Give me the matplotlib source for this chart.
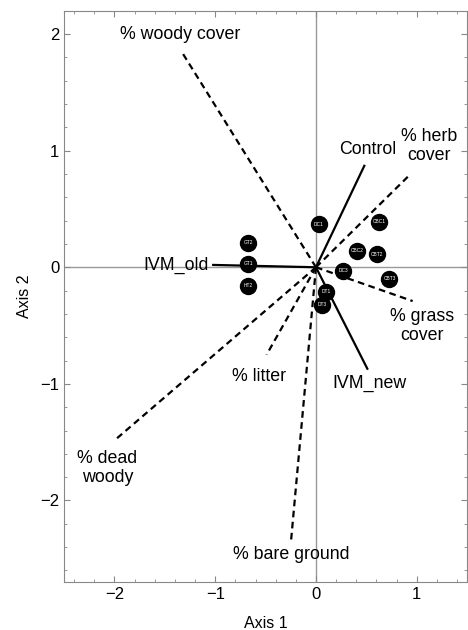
import matplotlib
matplotlib.use("Agg")
import matplotlib.pyplot as plt
from matplotlib.ticker import MultipleLocator

plt.rcParams["font.family"] = ["Liberation Sans", "DejaVu Sans"]

# site scores
site_names = ["DC1", "GT2", "GT1", "HT2", "CBC1", "CBC2", "CBT2", "DC3", "CBT3", "DT1", "DT3"]
site_x = [0.03, -0.67, -0.67, -0.67, 0.63, 0.41, 0.61, 0.27, 0.73, 0.10, 0.06]
site_y = [0.37, 0.21, 0.03, -0.16, 0.39, 0.14, 0.11, -0.03, -0.10, -0.21, -0.32]

# treatment vectors (solid)
treat_names = ["Control", "IVM_old", "IVM_new"]
treat_x = [0.48, -1.02, 0.51]
treat_y = [0.87, 0.02, -0.87]
treat_lab_x = [0.51, -1.39, 0.53]
treat_lab_y = [1.01, 0.02, -1.0]

# habitat variable vectors (dashed)
var_names = ["% woody cover", "% herb\ncover", "% grass\ncover", "% bare ground", "% litter", "% dead\nwoody"]
var_x = [-1.32, 0.94, 0.96, -0.25, -0.49, -1.98]
var_y = [1.83, 0.80, -0.29, -2.37, -0.75, -1.47]
var_lab_x = [-1.35, 1.12, 1.05, -0.25, -0.56, -2.07]
var_lab_y = [2.0, 1.04, -0.50, -2.46, -0.94, -1.72]

fig = plt.figure(figsize=(4.68, 6.3), dpi=100)
ax = fig.add_axes([0.137, 0.076, 0.861, 0.907])

ax.axhline(0, color="#999999", lw=1, zorder=0)
ax.axvline(0, color="#999999", lw=1, zorder=0)

for x, y in zip(var_x, var_y):
    ax.plot([0, x], [0, y], color="black", lw=1.6, ls=(0, (3, 2)), zorder=2)
for x, y in zip(treat_x, treat_y):
    ax.plot([0, x], [0, y], color="black", lw=1.6, zorder=2)

for name, x, y in zip(var_names, var_lab_x, var_lab_y):
    ax.text(x, y, name, ha="center", va="center", fontsize=12.8, linespacing=1.15)
for name, x, y in zip(treat_names, treat_lab_x, treat_lab_y):
    ax.text(x, y, name, ha="center", va="center", fontsize=12.8)

ax.plot(site_x, site_y, "o", color="black", ms=11.5, zorder=3)
for name, x, y in zip(site_names, site_x, site_y):
    ax.text(x, y, name, ha="center", va="center", fontsize=3.5, color="white", zorder=4)

ax.set_xlim(-2.5, 1.5)
ax.set_ylim(-2.7, 2.2)
ax.xaxis.set_major_locator(MultipleLocator(1))
ax.xaxis.set_minor_locator(MultipleLocator(0.2))
ax.yaxis.set_major_locator(MultipleLocator(1))
ax.yaxis.set_minor_locator(MultipleLocator(0.2))
ax.tick_params(which="both", direction="in", top=True, right=True, color="#888888", labelsize=12)
ax.tick_params(which="major", length=4)
ax.tick_params(which="minor", length=2.5)
for s in ax.spines.values():
    s.set_color("#888888")

ax.set_xlabel("Axis 1", fontsize=11.5, labelpad=10)
ax.set_ylabel("Axis 2", fontsize=11.5, labelpad=6)

fig.savefig("out.png", dpi=100)
